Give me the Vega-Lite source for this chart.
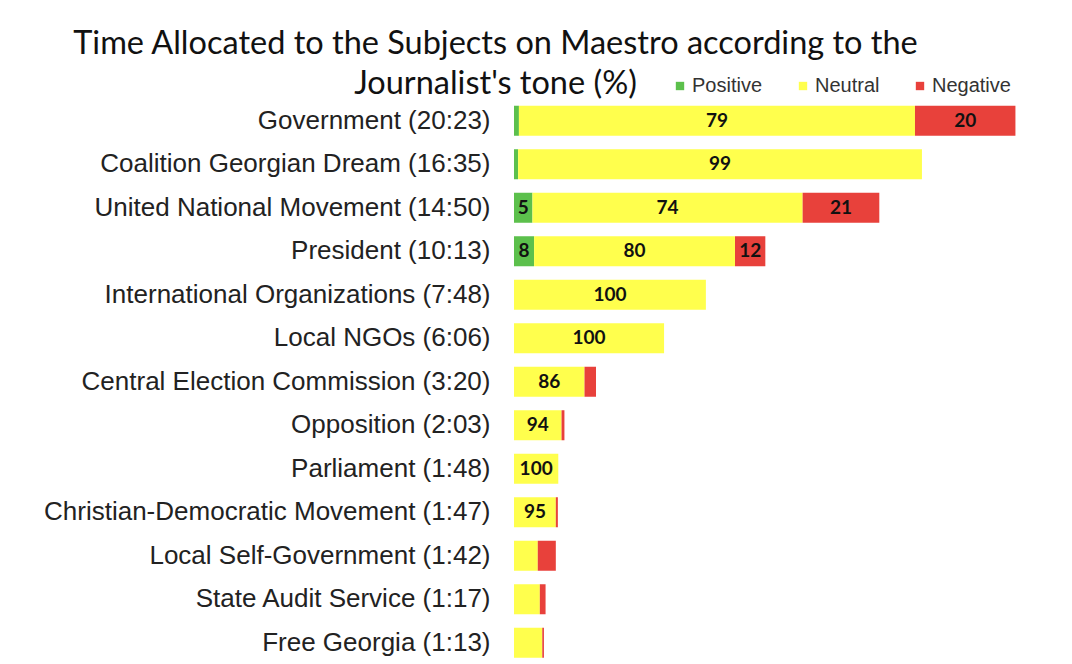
{
  "$schema": "https://vega.github.io/schema/vega-lite/v6.json",
  "width": 533,
  "height": 565.5,
  "autosize": {"type": "none"},
  "padding": {"left": 514, "top": 99, "right": 25, "bottom": 0},
  "background": "white",
  "title": {
    "text": ["Time Allocated to the Subjects on Maestro according to the", "Journalist's tone (%)"],
    "font": "Lato",
    "fontSize": 32.5,
    "fontWeight": "normal",
    "color": "#111111",
    "anchor": "middle",
    "frame": "group",
    "dx": -285,
    "lineHeight": 40,
    "offset": -24
  },
  "config": {"view": {"stroke": null}},
  "data": {
    "values": [
      {"subject": "Government (20:23)", "tone": "Positive", "k": 1, "seconds": 12, "pct": 1, "shown": false},
      {"subject": "Government (20:23)", "tone": "Neutral", "k": 2, "seconds": 966, "pct": 79, "shown": true},
      {"subject": "Government (20:23)", "tone": "Negative", "k": 3, "seconds": 245, "pct": 20, "shown": true},
      {"subject": "Coalition Georgian Dream (16:35)", "tone": "Positive", "k": 1, "seconds": 10, "pct": 1, "shown": false},
      {"subject": "Coalition Georgian Dream (16:35)", "tone": "Neutral", "k": 2, "seconds": 985, "pct": 99, "shown": true},
      {"subject": "United National Movement (14:50)", "tone": "Positive", "k": 1, "seconds": 45, "pct": 5, "shown": true},
      {"subject": "United National Movement (14:50)", "tone": "Neutral", "k": 2, "seconds": 659, "pct": 74, "shown": true},
      {"subject": "United National Movement (14:50)", "tone": "Negative", "k": 3, "seconds": 187, "pct": 21, "shown": true},
      {"subject": "President (10:13)", "tone": "Positive", "k": 1, "seconds": 49, "pct": 8, "shown": true},
      {"subject": "President (10:13)", "tone": "Neutral", "k": 2, "seconds": 490, "pct": 80, "shown": true},
      {"subject": "President (10:13)", "tone": "Negative", "k": 3, "seconds": 74, "pct": 12, "shown": true},
      {"subject": "International Organizations (7:48)", "tone": "Neutral", "k": 2, "seconds": 468, "pct": 100, "shown": true},
      {"subject": "Local NGOs (6:06)", "tone": "Neutral", "k": 2, "seconds": 366, "pct": 100, "shown": true},
      {"subject": "Central Election Commission (3:20)", "tone": "Neutral", "k": 2, "seconds": 172, "pct": 86, "shown": true},
      {"subject": "Central Election Commission (3:20)", "tone": "Negative", "k": 3, "seconds": 28, "pct": 14, "shown": false},
      {"subject": "Opposition (2:03)", "tone": "Neutral", "k": 2, "seconds": 116, "pct": 94, "shown": true},
      {"subject": "Opposition (2:03)", "tone": "Negative", "k": 3, "seconds": 7, "pct": 6, "shown": false},
      {"subject": "Parliament (1:48)", "tone": "Neutral", "k": 2, "seconds": 108, "pct": 100, "shown": true},
      {"subject": "Christian-Democratic Movement (1:47)", "tone": "Neutral", "k": 2, "seconds": 102, "pct": 95, "shown": true},
      {"subject": "Christian-Democratic Movement (1:47)", "tone": "Negative", "k": 3, "seconds": 5, "pct": 5, "shown": false},
      {"subject": "Local Self-Government (1:42)", "tone": "Neutral", "k": 2, "seconds": 58, "pct": 57, "shown": false},
      {"subject": "Local Self-Government (1:42)", "tone": "Negative", "k": 3, "seconds": 44, "pct": 43, "shown": false},
      {"subject": "State Audit Service (1:17)", "tone": "Neutral", "k": 2, "seconds": 63, "pct": 82, "shown": false},
      {"subject": "State Audit Service (1:17)", "tone": "Negative", "k": 3, "seconds": 14, "pct": 18, "shown": false},
      {"subject": "Free Georgia (1:13)", "tone": "Neutral", "k": 2, "seconds": 69, "pct": 95, "shown": false},
      {"subject": "Free Georgia (1:13)", "tone": "Negative", "k": 3, "seconds": 4, "pct": 5, "shown": false}
    ]
  },
  "transform": [
    {"stack": "seconds", "groupby": ["subject"], "sort": [{"field": "k", "order": "ascending"}], "as": ["x0", "x1"]}
  ],
  "encoding": {
    "y": {
      "field": "subject",
      "type": "nominal",
      "sort": null,
      "scale": {"paddingInner": 0.31, "paddingOuter": 0.155},
      "axis": {
        "title": null,
        "ticks": false,
        "domain": false,
        "labelFont": "Liberation Sans",
        "labelFontSize": 26,
        "labelColor": "#222222",
        "labelPadding": 24,
        "labelLimit": 600
      }
    }
  },
  "layer": [
    {
      "mark": {"type": "bar"},
      "encoding": {
        "x": {"field": "x0", "type": "quantitative", "scale": {"domain": [0, 1300]}, "axis": null},
        "x2": {"field": "x1"},
        "color": {
          "field": "tone",
          "type": "nominal",
          "scale": {"domain": ["Positive", "Neutral", "Negative"], "range": ["#5cc04c", "#ffff4d", "#e8413b"]},
          "legend": {
            "orient": "none",
            "legendX": 156,
            "legendY": -23,
            "direction": "horizontal",
            "title": null,
            "symbolType": "square",
            "symbolSize": 70,
            "symbolStrokeWidth": 0,
            "labelFont": "Liberation Sans",
            "labelFontSize": 20,
            "labelColor": "#333333",
            "labelOffset": 2,
            "columnPadding": 30
          }
        }
      }
    },
    {
      "transform": [
        {"filter": "datum.shown"},
        {"fold": ["x0", "x1"], "as": ["edge", "pos"]}
      ],
      "mark": {"type": "text", "font": "Lato", "fontWeight": "bold", "fontSize": 19, "color": "#111111", "align": "center", "baseline": "middle"},
      "encoding": {
        "x": {"field": "pos", "type": "quantitative", "aggregate": "mean"},
        "detail": {"field": "tone", "type": "nominal"},
        "text": {"field": "pct", "type": "quantitative"}
      }
    }
  ]
}
